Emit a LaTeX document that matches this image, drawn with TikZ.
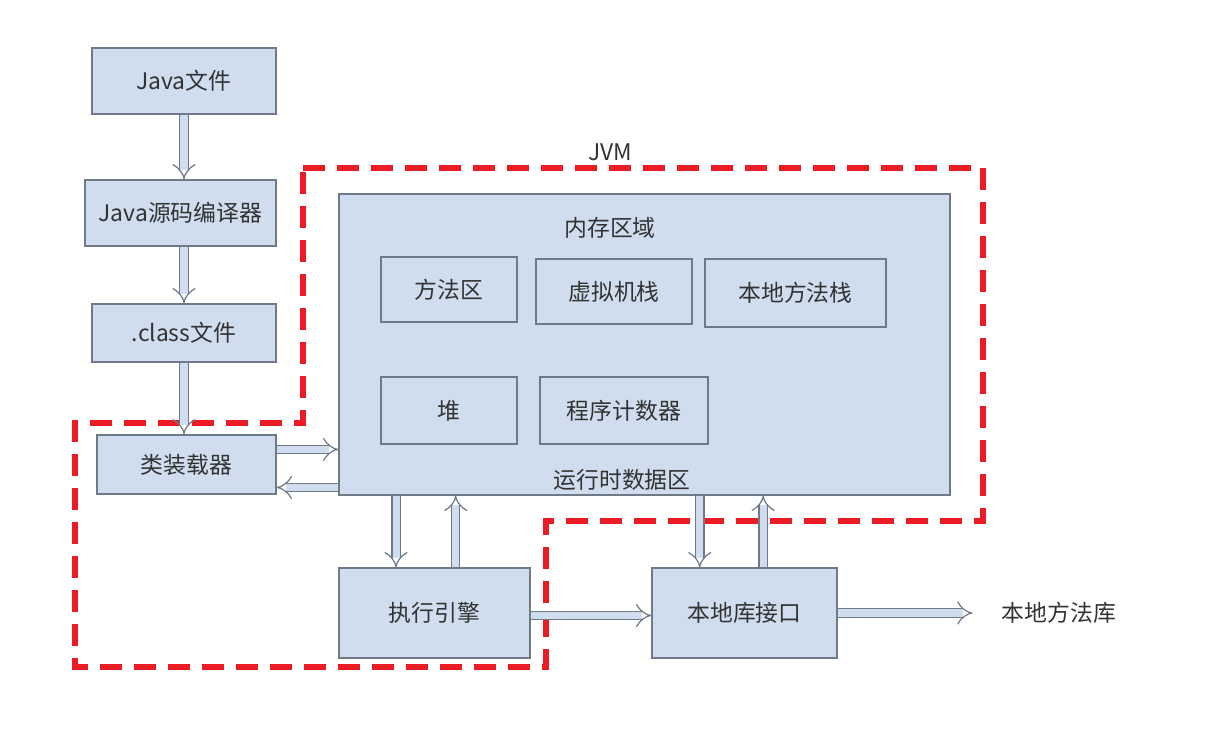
\documentclass[tikz,border=0pt]{standalone}
\usepackage{fontspec}
\newfontfamily\cjk{Noto Sans CJK SC}
\usetikzlibrary{arrows.meta, positioning, calc}
\definecolor{cfill}{HTML}{CFDDEE}
\definecolor{cedge}{HTML}{6E7A86}
\definecolor{cred}{HTML}{EC1C24}
\definecolor{ctext}{HTML}{333333}
\tikzset{
  every picture/.style={font=\cjk\fontsize{13}{15}\selectfont, line width=0.8pt},
  box/.style={draw=cedge, fill=cfill, align=center, inner sep=0pt, text=ctext},
  arrow/.style={draw=cedge, double=cfill, double distance=4pt, line width=0.7pt, -{Implies}},
  note/.style={text=ctext, inner sep=2pt},
  jvmline/.style={draw=cred, line width=3.4pt, dash pattern=on 0.44cm off 0.24cm},
}
\begin{document}
\begin{tikzpicture}[y=-1cm]
  \useasboundingbox (0,0) rectangle (24.44,14.8);
  % ---- JVM outline ----
  \draw[jvmline] (6.06,3.36) -- (19.66,3.36) -- (19.66,10.42) -- (10.92,10.42) -- (10.92,13.34)
    -- (1.5,13.34) -- (1.5,8.46) -- (6.06,8.46) -- cycle;
  \node[note] (jvm) at (12.2,3.04) {JVM};
  % ---- compile chain (left) ----
  \node[box, minimum width=3.68cm, minimum height=1.32cm] (javaf) at (3.68,1.62) {Java文件};
  \node[box, minimum width=3.82cm, minimum height=1.32cm] (compiler) at (3.61,4.26) {Java源码编译器};
  \node[box, minimum width=3.68cm, minimum height=1.16cm] (classf) at (3.68,6.66) {.class文件};
  \node[box, minimum width=3.58cm, minimum height=1.18cm] (loader) at (3.73,9.29) {类装载器};
  \draw[arrow] (javaf.south) -- (javaf.south |- compiler.north);
  \draw[arrow] (javaf.south |- compiler.south) -- (javaf.south |- classf.north);
  \draw[arrow] (javaf.south |- classf.south) -- (javaf.south |- loader.north);
  % ---- runtime data area ----
  \node[box, minimum width=12.22cm, minimum height=6.02cm] (runtime) at (12.89,6.89) {};
  \node[note] (mem) at (12.2,4.56) {内存区域};
  \node[note] (rtd) at (12.44,9.6) {运行时数据区};
  \node[box, minimum width=2.72cm, minimum height=1.30cm] (method) at (8.98,5.79) {方法区};
  \node[box, minimum width=3.12cm, minimum height=1.30cm] (vmstack) at (12.28,5.83) {虚拟机栈};
  \node[box, minimum width=3.62cm, minimum height=1.36cm] (nstack) at (15.91,5.86) {本地方法栈};
  \node[box, minimum width=2.72cm, minimum height=1.34cm] (heap) at (8.98,8.21) {堆};
  \node[box, minimum width=3.36cm, minimum height=1.34cm] (pc) at (12.48,8.21) {程序计数器};
  % loader <-> runtime
  \coordinate (l1) at ($(loader.north east)!0.25!(loader.south east)$);
  \coordinate (l2) at ($(loader.north east)!0.88!(loader.south east)$);
  \draw[arrow] (l1) -- (l1 -| runtime.west);
  \draw[arrow] (l2 -| runtime.west) -- (l2);
  % ---- bottom row ----
  \node[box, minimum width=3.82cm, minimum height=1.80cm] (engine) at (8.69,12.26) {执行引擎};
  \node[box, minimum width=3.70cm, minimum height=1.80cm] (nif) at (14.89,12.26) {本地库接口};
  \node[note, anchor=west] (nlib) at (19.95,12.26) {本地方法库};
  \coordinate (e1) at ($(engine.north west)!0.30!(engine.north east)$);
  \coordinate (e2) at ($(engine.north west)!0.61!(engine.north east)$);
  \draw[arrow] (e1 |- runtime.south) -- (e1);
  \draw[arrow] (e2) -- (e2 |- runtime.south);
  \coordinate (n1) at ($(nif.north west)!0.26!(nif.north east)$);
  \coordinate (n2) at ($(nif.north west)!0.60!(nif.north east)$);
  \draw[arrow] (n1 |- runtime.south) -- (n1);
  \draw[arrow] (n2) -- (n2 |- runtime.south);
  \draw[arrow] ([yshift=-0.05cm]engine.east) -- ([yshift=-0.05cm]nif.west);
  \draw[arrow] (nif.east) -- ([xshift=-0.5cm]nlib.west);
\end{tikzpicture}
\end{document}
